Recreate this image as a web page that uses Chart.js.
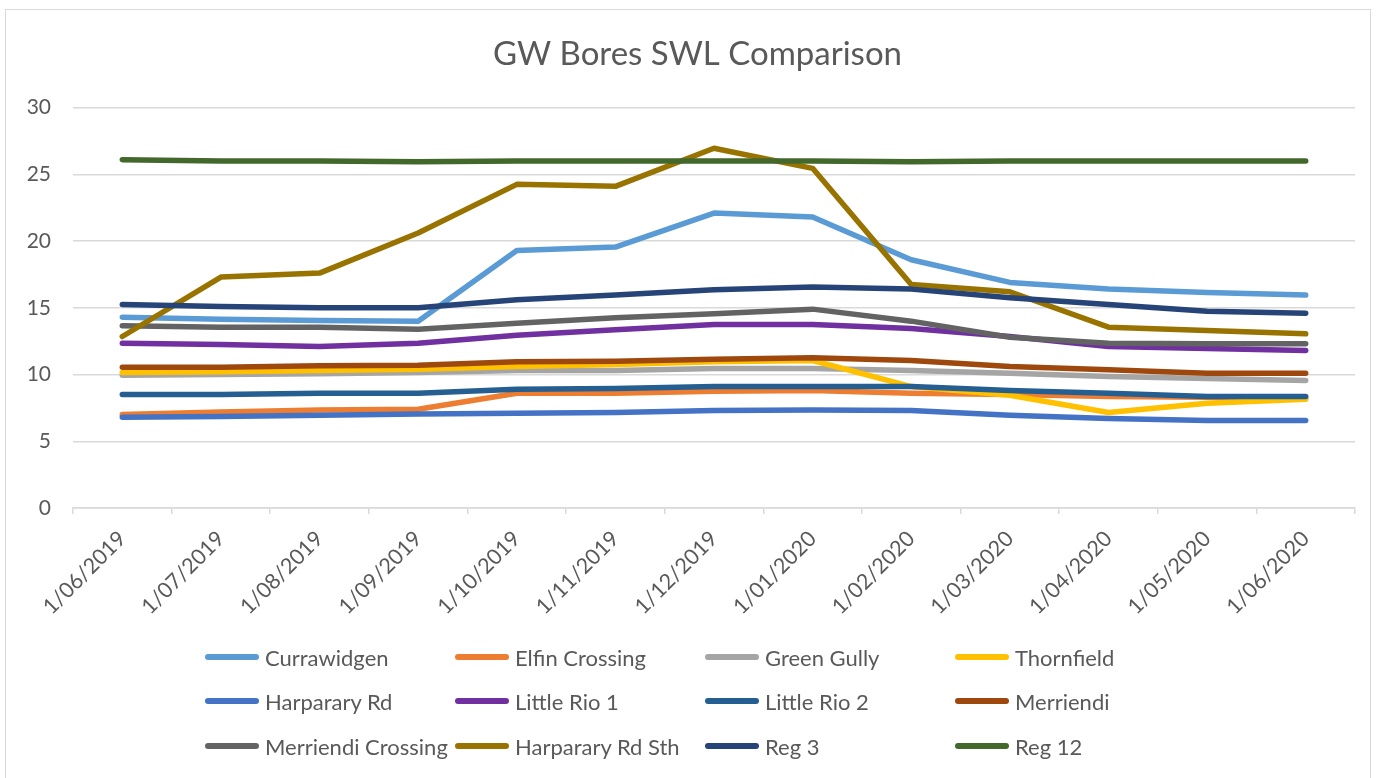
<!DOCTYPE html>
<html>
<head>
<meta charset="utf-8">
<script src="https://cdn.jsdelivr.net/npm/chart.js@4.4.1/dist/chart.umd.min.js"></script>
<style>
  html, body { margin:0; padding:0; background:#fff; }
  body { width:1378px; height:778px; position:relative; overflow:hidden; font-family: Lato, "Open Sans", sans-serif; }
  #frame { position:absolute; left:5px; top:9px; width:1366px; height:800px; border:1px solid #d9d9d9; box-sizing:border-box; }
  #wrap { position:absolute; left:0; top:0; width:1378px; height:778px; }
  #legend { position:absolute; left:0; top:0; width:1378px; height:778px; pointer-events:none; }
  .item { position:absolute; display:flex; align-items:center; height:30px; color:#595959; font-size:22px; white-space:nowrap; }
  .swatch { width:54px; height:6px; border-radius:3px; margin-right:6px; }
</style>
</head>
<body>
<div id="frame"></div>
<div id="wrap"><canvas id="c" width="1378" height="778"></canvas></div>
<div id="legend"></div>
<script>
const dateLabels = ['1/06/2019','1/07/2019','1/08/2019','1/09/2019','1/10/2019','1/11/2019','1/12/2019','1/01/2020','1/02/2020','1/03/2020','1/04/2020','1/05/2020','1/06/2020'];

const currawidgen       = [14.3, 14.15, 14.05, 14.0, 19.3, 19.55, 22.1, 21.8, 18.6, 16.9, 16.4, 16.15, 15.95];
const elfinCrossing     = [7.0, 7.2, 7.35, 7.4, 8.6, 8.6, 8.75, 8.8, 8.6, 8.5, 8.35, 8.3, 8.25];
const greenGully        = [9.95, 10.0, 10.05, 10.15, 10.3, 10.3, 10.45, 10.45, 10.3, 10.1, 9.85, 9.7, 9.55];
const thornfield        = [10.15, 10.2, 10.3, 10.4, 10.6, 10.75, 10.95, 11.05, 9.1, 8.45, 7.15, 7.85, 8.15];
const harpararyRd       = [6.8, 6.85, 6.95, 7.05, 7.1, 7.15, 7.3, 7.35, 7.3, 6.95, 6.7, 6.55, 6.55];
const littleRio1        = [12.35, 12.25, 12.1, 12.35, 12.95, 13.35, 13.75, 13.75, 13.45, 12.85, 12.1, 11.95, 11.8];
const littleRio2        = [8.5, 8.5, 8.6, 8.6, 8.9, 8.95, 9.1, 9.1, 9.1, 8.8, 8.6, 8.35, 8.35];
const merriendi         = [10.55, 10.55, 10.65, 10.7, 10.95, 11.0, 11.15, 11.25, 11.05, 10.6, 10.35, 10.1, 10.1];
const merriendiCrossing = [13.65, 13.55, 13.55, 13.4, 13.85, 14.25, 14.55, 14.9, 14.0, 12.8, 12.35, 12.3, 12.3];
const harpararyRdSth    = [12.85, 17.3, 17.6, 20.6, 24.25, 24.1, 26.95, 25.45, 16.75, 16.2, 13.55, 13.3, 13.05];
const reg3              = [15.25, 15.1, 15.0, 15.0, 15.6, 15.95, 16.35, 16.55, 16.4, 15.75, 15.25, 14.75, 14.6];
const reg12             = [26.1, 26.0, 26.0, 25.95, 26.0, 26.0, 26.0, 26.0, 25.95, 26.0, 26.0, 26.0, 26.0];

const seriesNames = ['Currawidgen','Elfin Crossing','Green Gully','Thornfield','Harparary Rd','Little Rio 1','Little Rio 2','Merriendi','Merriendi Crossing','Harparary Rd Sth','Reg 3','Reg 12'];
const seriesValues = [currawidgen, elfinCrossing, greenGully, thornfield, harpararyRd, littleRio1, littleRio2, merriendi, merriendiCrossing, harpararyRdSth, reg3, reg12];
const seriesColors = ['#5B9BD5','#ED7D31','#A5A5A5','#FFC000','#4472C4','#7030A0','#255E91','#9E480E','#636363','#997300','#264478','#43682B'];

const yTicks = [0, 5, 10, 15, 20, 25, 30];

const datasets = seriesNames.map((name, i) => ({
  label: name,
  data: seriesValues[i],
  borderColor: seriesColors[i],
  backgroundColor: seriesColors[i],
  borderWidth: 5.5,
  borderCapStyle: 'round',
  borderJoinStyle: 'round',
  pointRadius: 0,
  tension: 0,
  fill: false,
  order: seriesNames.length - i
}));

const FONT = 'Lato, "Open Sans", sans-serif';

const chart = new Chart(document.getElementById('c'), {
  type: 'line',
  data: { labels: dateLabels, datasets },
  options: {
    responsive: false,
    animation: false,
    layout: { padding: { left: 0, right: 23, top: 0, bottom: 140 } },
    plugins: {
      legend: { display: false },
      tooltip: { enabled: false },
      title: {
        display: true,
        text: 'GW Bores SWL Comparison',
        color: '#595959',
        font: { family: FONT, size: 33, weight: 'normal', lineHeight: 1.2 },
        padding: { top: 35, bottom: 33 }
      }
    },
    scales: {
      x: {
        offset: true,
        grid: { offset: true, drawOnChartArea: false, drawTicks: true, tickLength: 6, color: '#d9d9d9', lineWidth: 1.5 },
        border: { display: true, color: '#d9d9d9', width: 1.5 },
        ticks: { color: '#595959', font: { family: FONT, size: 21.5 }, minRotation: 45, maxRotation: 45, autoSkip: false, padding: 12 },
        afterFit(scale) { scale.height = 130; scale.paddingLeft = 0; scale.paddingRight = 0; }
      },
      y: {
        min: 0, max: 30,
        afterBuildTicks(scale) { scale.ticks = yTicks.map(v => ({ value: v })); },
        grid: { drawTicks: false, color: '#d9d9d9', lineWidth: 1.5 },
        border: { display: false },
        ticks: { color: '#595959', font: { family: FONT, size: 21 }, padding: 22 },
        afterFit(scale) { scale.width = 73; }
      }
    }
  },
  plugins: [{
    id: 'centerTitle',
    afterLayout(c) {
      // centre the title over the whole frame, as in the reference
      const t = c.titleBlock;
      if (t) { t.left = 20; t.right = 1375; }
    }
  }]
});

// HTML legend built from the chart's datasets
const legendEl = document.getElementById('legend');
const colX = [205, 455, 705, 955];
const rowY = [657, 701, 746];
chart.data.datasets.forEach((ds, i) => {
  const col = i % 4, row = Math.floor(i / 4);
  const d = document.createElement('div');
  d.className = 'item';
  d.style.left = colX[col] + 'px';
  d.style.top = (rowY[row] - 15) + 'px';
  const sw = document.createElement('span');
  sw.className = 'swatch';
  sw.style.background = ds.borderColor;
  const t = document.createElement('span');
  t.textContent = ds.label;
  d.appendChild(sw); d.appendChild(t);
  legendEl.appendChild(d);
});
</script>
</body>
</html>
